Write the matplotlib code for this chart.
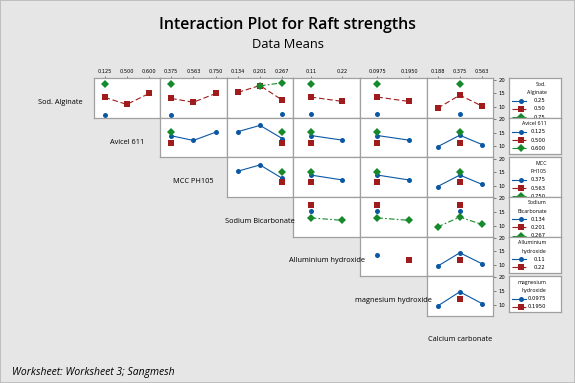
import numpy as np
import matplotlib
matplotlib.use("Agg")
import matplotlib.pyplot as plt

plt.rcParams['font.family'] = ['Open Sans', 'DejaVu Sans']

N = np.nan

# ---- factors and levels ----
factor_names = ["Sod. Alginate", "Avicel 611", "MCC PH105", "Sodium Bicarbonate",
                "Alluminium hydroxide", "magnesium hydroxide", "Calcium carbonate"]
legend_titles = ["Sod.\nAlginate", "Avicel 611", "MCC\nPH105", "Sodium\nBicarbonate",
                 "Alluminium\nhydroxide", "magnesium\nhydroxide"]
sod_levels = ["0.25", "0.50", "0.75"]
avicel_levels = ["0.125", "0.500", "0.600"]
mcc_levels = ["0.375", "0.563", "0.750"]
sb_levels = ["0.134", "0.201", "0.267"]
al_levels = ["0.11", "0.22"]
mg_levels = ["0.0975", "0.1950"]
ca_levels = ["0.188", "0.375", "0.563"]

# ---- means: rows = trace factor levels, columns = x factor levels ----
sod_x_avicel = [[7.1, N, N], [13.5, 10.9, 14.9], [18.3, N, N]]
sod_x_mcc = [[7.1, N, N], [13.1, 11.7, 14.9], [18.3, N, N]]
sod_x_sb = [[N, N, 7.3], [15.3, 17.8, 12.5], [N, 17.7, 18.8]]
sod_x_al = [[7.3, N], [13.6, 12.0], [18.3, N]]
sod_x_mg = [[7.3, N], [13.6, 12.0], [18.3, N]]
sod_x_ca = [[N, 7.3, N], [9.5, 14.3, 10.3], [N, 18.3, N]]

avicel_x_mcc = [[13.9, 12.2, 15.2], [11.3, N, N], [15.1, N, N]]
avicel_x_sb = [[15.4, 17.7, 12.9], [N, N, 11.3], [N, N, 15.2]]
avicel_x_al = [[14.0, 12.3], [11.3, N], [15.2, N]]
avicel_x_mg = [[14.0, 12.3], [11.3, N], [15.2, N]]
avicel_x_ca = [[9.9, 14.1, 10.7], [N, 11.3, N], [N, 15.2, N]]

mcc_x_sb = [[15.4, 17.7, 12.8], [N, N, 11.4], [N, N, 15.2]]
mcc_x_al = [[14.0, 12.2], [11.4, N], [15.2, N]]
mcc_x_mg = [[14.0, 12.2], [11.4, N], [15.2, N]]
mcc_x_ca = [[9.8, 14.0, 10.6], [N, 11.4, N], [N, 15.2, N]]

sb_x_al = [[15.3, N], [17.6, N], [12.8, 11.9]]
sb_x_mg = [[15.3, N], [17.6, N], [12.8, 11.9]]
sb_x_ca = [[N, 15.3, N], [N, 17.6, N], [9.5, 13.1, 10.4]]

al_x_mg = [[13.6, N], [N, 11.9]]
al_x_ca = [[9.6, 14.5, 10.5], [N, 11.9, N]]

mg_x_ca = [[9.5, 14.7, 10.4], [N, 12.2, N]]

y_ticks = [10, 15, 20]

# ---- tables built from the arrays ----
all_levels = [sod_levels, avicel_levels, mcc_levels, sb_levels, al_levels, mg_levels, ca_levels]
panels = {
    (0, 1): sod_x_avicel, (0, 2): sod_x_mcc, (0, 3): sod_x_sb, (0, 4): sod_x_al,
    (0, 5): sod_x_mg, (0, 6): sod_x_ca,
    (1, 2): avicel_x_mcc, (1, 3): avicel_x_sb, (1, 4): avicel_x_al, (1, 5): avicel_x_mg,
    (1, 6): avicel_x_ca,
    (2, 3): mcc_x_sb, (2, 4): mcc_x_al, (2, 5): mcc_x_mg, (2, 6): mcc_x_ca,
    (3, 4): sb_x_al, (3, 5): sb_x_mg, (3, 6): sb_x_ca,
    (4, 5): al_x_mg, (4, 6): al_x_ca,
    (5, 6): mg_x_ca,
}

W, H = 575, 383
BG = '#e6e6e6'
fig = plt.figure(figsize=(W / 100, H / 100), dpi=100, facecolor=BG)


def px_axes(x, y, w, h, **kw):
    return fig.add_axes([x / W, 1 - (y + h) / H, w / W, h / H], **kw)


X0, Y0, CW, RH = 93.5, 78.3, 66.6, 39.55
YLIM = (6.0, 20.45)
colors = ['#0a57a4', '#a01c1c', '#168a2a']
mk = ['o', 's', 'D']
ms = [3.6, 3.8, 3.6]
lstyles = ['-', (0, (5, 2.5)), (0, (5, 2, 1.5, 2))]
spine_c = '#a0a0a0'

for r in range(6):
    for c in range(r + 1, 7):
        ax = px_axes(X0 + (c - 1) * CW, Y0 + r * RH, CW, RH)
        ax.set_facecolor('white')
        levs = all_levels[c]
        xs = np.arange(1, len(levs) + 1)
        for k, series in enumerate(panels[(r, c)]):
            ax.plot(xs, np.array(series, float), color=colors[k], ls=lstyles[k], lw=0.8,
                    marker=mk[k], ms=ms[k], mew=0, clip_on=False, zorder=2 + k)
        if len(levs) == 3:
            ax.set_xlim(0.5, 3.5)
        else:
            ax.set_xlim(0.45, 2.55)
        ax.set_ylim(*YLIM)
        for sp in ax.spines.values():
            sp.set_color(spine_c)
            sp.set_linewidth(0.9)
        if r == 0:
            ax.xaxis.tick_top()
            ax.set_xticks(xs)
            ax.set_xticklabels(levs, fontsize=3.6, family='DejaVu Sans')
            ax.tick_params(axis='x', length=1.8, width=0.5, pad=1, color='#555555')
        else:
            ax.set_xticks([])
        if c == 6:
            ax.yaxis.tick_right()
            ax.set_yticks(y_ticks)
            ax.set_yticklabels([str(t) for t in y_ticks], fontsize=3.8, family='DejaVu Sans')
            ax.tick_params(axis='y', length=2.5, width=0.5, pad=1.5, color='#555555')
        else:
            ax.set_yticks([])

# row labels on the diagonal
for i, name in enumerate(factor_names):
    cx = X0 + (i - 0.5) * CW
    cy = Y0 + (i + 0.5) * RH + 4.5
    fig.text(cx / W, 1 - cy / H, name, ha='center', va='center', fontsize=5.3)

# legends
leg_boxes = [(78.3, 118.3), (118.3, 154.3), (157.3, 196.7), (196.7, 236.7),
             (236.7, 272.7), (276.0, 311.7)]
LX, LW = 509.3, 51.4
for i, (top, bot) in enumerate(leg_boxes):
    lax = px_axes(LX, top, LW, bot - top)
    lax.set_facecolor('white')
    lax.set_xlim(0, LW)
    lax.set_ylim(bot - top, 0)
    lax.set_xticks([])
    lax.set_yticks([])
    for sp in lax.spines.values():
        sp.set_color(spine_c)
        sp.set_linewidth(0.9)
    tlines = legend_titles[i].split('\n')
    y = 6.3 if len(tlines) == 2 else 5.4
    for t in tlines:
        lax.text(37.5, y, t, ha='right', va='center', fontsize=3.8, clip_on=True)
        y += 8.1
    for k, lv in enumerate(all_levels[i]):
        lax.plot([2.5, 17.0], [y, y], color=colors[k], ls=lstyles[k], lw=0.8, clip_on=True)
        lax.plot([11.7], [y], color=colors[k], marker=mk[k], ms=ms[k], mew=0, clip_on=True)
        lax.text(36.5, y, lv, ha='right', va='center', fontsize=3.8, clip_on=True,
                 family='DejaVu Sans')
        y += 8.2

fig.text(0.5, 1 - 25 / H, "Interaction Plot for Raft strengths", ha='center', va='center',
         fontsize=11.4, fontweight='semibold')
fig.text(0.5, 1 - 45 / H, "Data Means", ha='center', va='center', fontsize=9.3)
fig.text(12 / W, 1 - 373 / H, "Worksheet: Worksheet 3; Sangmesh", ha='left', va='center',
         fontsize=7.5, style='italic')

border = plt.Rectangle((0, 0), 1, 1, transform=fig.transFigure, fill=False,
                       edgecolor='#b8b8b8', lw=1.2)
fig.patches.append(border)

fig.savefig('out.png', dpi=100, facecolor=BG)
